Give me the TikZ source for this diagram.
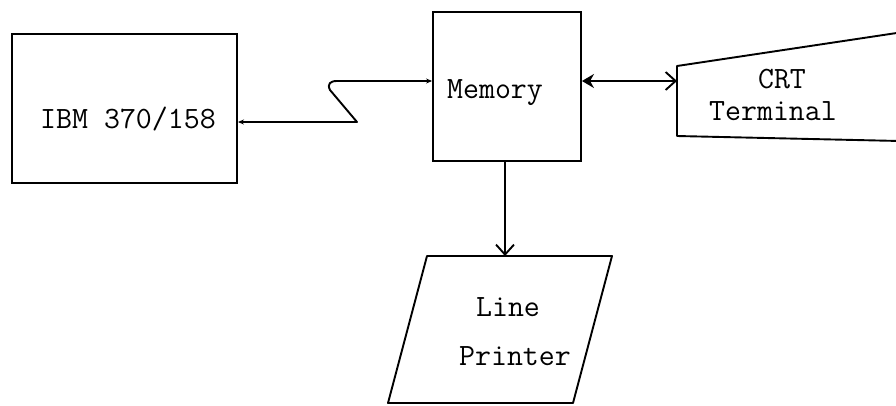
\documentclass[tikz,border=0pt]{standalone}
\usetikzlibrary{arrows.meta}
\begin{document}
\begin{tikzpicture}[x=1pt,y=-1pt,
  ln/.style={line width=1.9pt,line join=round},
  boxnode/.style={draw,line width=1.9pt,inner sep=0pt,minimum width=#1},
  lbl/.style={font=\fontsize{31}{36}\selectfont\ttfamily,inner sep=0pt,anchor=base},
  barb/.tip={Straight Barb[length=10pt,width=18pt,line width=1.9pt]}
]
\useasboundingbox (0,0) rectangle (896,405);
\fill[white] (0,0) rectangle (896,405);
% boxes
\node[boxnode=225pt,minimum height=149pt] (ibm) at (124.5,108.5) {};
\node[boxnode=148pt,minimum height=149pt] (mem) at (507,86.5) {};
\node[lbl] (ibmt) at (128,128) {IBM 370/158};
\node[lbl] (memt) at (495,98) {Memory};
% CRT terminal
\coordinate (crtTL) at (677,66);
\coordinate (crtBL) at (677,136);
\coordinate (crtL) at (677,81);
\draw[ln] (900,32.5) -- (crtTL) -- (crtBL) -- (900,141);
\node[lbl] (crt1) at (782,88) {CRT};
\node[lbl] (crt2) at (773,120) {Terminal};
% line printer
\coordinate (pTL) at (427,256);
\coordinate (pTR) at (612,256);
\coordinate (pBR) at (573,403);
\coordinate (pBL) at (388,403);
\coordinate (prtT) at (505,256);
\draw[ln] (pTL) -- (pTR) -- (pBR) -- (pBL) -- cycle;
\node[lbl] (lp1) at (508,316) {Line};
\node[lbl] (lp2) at (515,365) {Printer};
% connectors
\draw[ln,{Stealth[length=6pt,width=5pt]}-{Stealth[length=6pt,width=5pt]}]
  (ibm.east |- 0,122) -- (357,122) -- (330,90) .. controls (327,84) and (330,81) .. (337,81) -- (mem.west |- 0,81);
\draw[ln,{Stealth[length=12pt,width=14pt]}-barb] (mem.east |- crtL) -- (crtL);
\draw[ln,-barb] (mem.south -| prtT) -- (prtT);
\end{tikzpicture}
\end{document}
